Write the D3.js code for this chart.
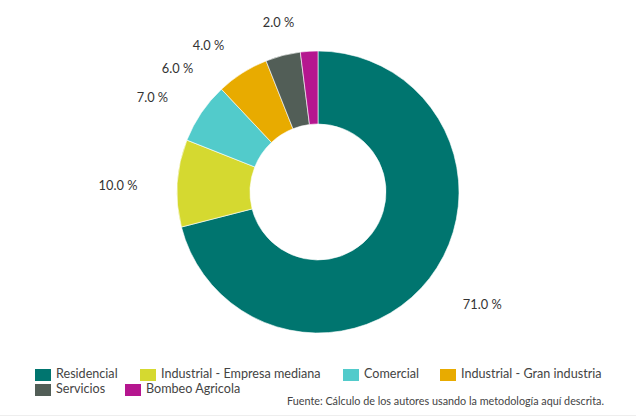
<!DOCTYPE html>
<html><head><meta charset="utf-8">
<script src="https://cdn.jsdelivr.net/npm/d3@7"></script>
<style>body{margin:0;background:#fff;}svg{display:block;font-family:Lato,"Open Sans",sans-serif;}</style>
</head><body>
<svg id="c" width="636" height="417"></svg>
<script>
const categories = ["Residencial","Industrial - Empresa mediana","Comercial","Industrial - Gran industria","Servicios","Bombeo Agricola"];
const values = [71,10,7,6,4,2];
const colors = ["#00756f","#d5d930","#52cbcb","#e8ab00","#525e57","#b5168f"];
const source = "Fuente: Cálculo de los autores usando la metodología aquí descrita.";

const svg = d3.select("#c");
const cx = 318, cy = 192, R = 141, r = 68, LR = 176, pad = 5, gap = 23, minY = 22;
const data = categories.map((c,i)=>({name:c,value:values[i],color:colors[i]}));
const pie = d3.pie().value(d=>d.value).sort(null);
const arc = d3.arc().innerRadius(r).outerRadius(R);
const g = svg.append("g");
const arcs = pie(data);
g.selectAll("path").data(arcs).join("path")
  .attr("transform",`translate(${cx},${cy})`)
  .attr("d",arc).attr("fill",d=>d.data.color)
  .attr("stroke","#fff").attr("stroke-width",0.6);

// label layout (distributed like Highcharts, connectors hidden)
const labs = arcs.map(d=>{
  const a=(d.startAngle+d.endAngle)/2;
  return {d, left: a>Math.PI, y: cy - LR*Math.cos(a) + 4};
});
["left","right"].forEach(side=>{
  const s = labs.filter(l=>(side==="left")===l.left).sort((a,b)=>a.y-b.y);
  let prev=-Infinity;
  s.forEach(l=>{ l.y=Math.max(l.y, minY, prev+gap); prev=l.y; });
});
labs.forEach(l=>{
  const dy = Math.max(-LR, Math.min(LR, l.y-5-cy));
  const dx = Math.sqrt(LR*LR-dy*dy)+pad;
  l.x = cx + (l.left?-dx:dx);
});
g.selectAll("text.lbl").data(labs).join("text").attr("class","lbl")
  .attr("x",l=>l.x).attr("y",l=>l.y+2)
  .attr("text-anchor",l=>l.left?"end":"start")
  .attr("dominant-baseline","middle")
  .attr("font-size",12.8).attr("fill","#333")
  .text(l=>l.d.data.value.toFixed(1)+" %");

// legend
const legendPos = [[35,375],[140,375],[343,375],[440,375],[35,390],[125,390]];
const lg = svg.append("g");
data.forEach((d,i)=>{
  const [x,y]=legendPos[i];
  lg.append("rect").attr("x",x).attr("y",y-6).attr("width",16).attr("height",12).attr("fill",d.color);
  lg.append("text").attr("x",x+21).attr("y",y).attr("dominant-baseline","middle")
    .attr("font-size",12.6).attr("fill","#444").text(d.name);
});
svg.append("text").attr("x",604).attr("y",402).attr("text-anchor","end")
  .attr("dominant-baseline","middle").attr("font-size",10.8).attr("fill","#444").text(source);
svg.append("line").attr("x1",0).attr("x2",636).attr("y1",415.5).attr("y2",415.5).attr("stroke","#eee");
</script>
</body></html>
